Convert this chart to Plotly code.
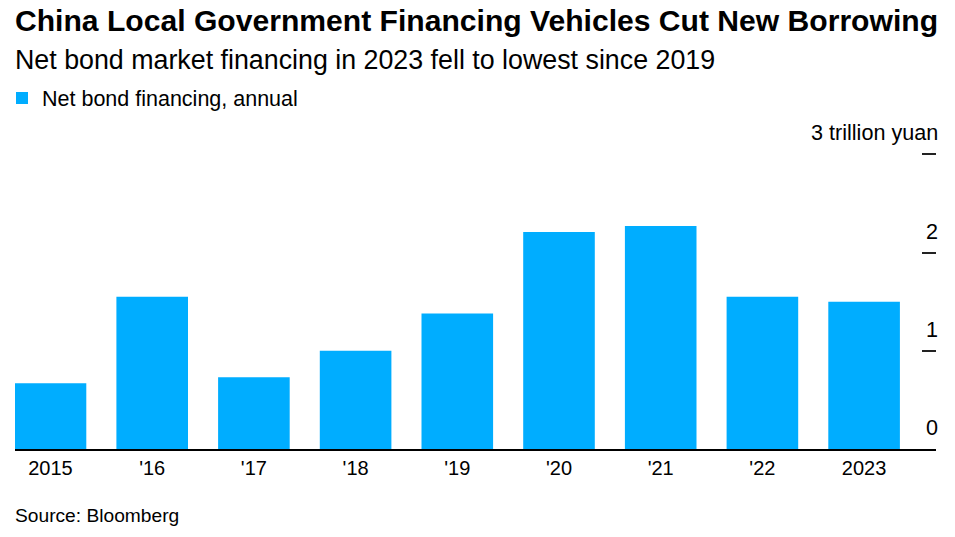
import plotly.graph_objects as go

years = ["2015", "'16", "'17", "'18", "'19", "'20", "'21", "'22", "2023"]
net_financing = [0.67, 1.55, 0.73, 1.00, 1.38, 2.21, 2.27, 1.55, 1.50]
y_tickvals = [0, 1, 2, 3]
y_ticktext = ["0", "1", "2", "3 trillion yuan"]

# the page body margin is removed by a post script, so figure px == window px
W, H = 955, 537
plot_left, plot_right, plot_top, plot_bottom = 15, 936, 110, 448.6
L, R, T, B = plot_left, W - plot_right, plot_top, H - plot_bottom
plot_w = plot_right - plot_left
plot_h = plot_bottom - plot_top
px_per_unit = 98.1
cat_px = 101.7
first_center = 50.5
x0 = (plot_left - first_center) / cat_px
x1 = x0 + plot_w / cat_px

FONT = "Liberation Sans, Arial, Helvetica, sans-serif"
BLUE = "#00ADFF"


def px_x(p):
    return (p - plot_left) / plot_w


def px_y(p):
    return (plot_bottom - p) / plot_h


fig = go.Figure()
fig.add_trace(go.Bar(
    x=years, y=net_financing, name="Net bond financing, annual",
    marker=dict(color=BLUE, line=dict(width=0)),
    hoverinfo="skip",
))

annotations = [
    dict(text="<b>China Local Government Financing Vehicles Cut New Borrowing</b>",
         xref="paper", yref="paper", x=px_x(13), y=px_y(21),
         xanchor="left", yanchor="middle", showarrow=False,
         font=dict(size=30.1, family=FONT, color="#000")),
    dict(text="Net bond market financing in 2023 fell to lowest since 2019",
         xref="paper", yref="paper", x=px_x(13), y=px_y(60),
         xanchor="left", yanchor="middle", showarrow=False,
         font=dict(size=26.8, family=FONT, color="#000")),
    dict(text="Source: Bloomberg",
         xref="paper", yref="paper", x=px_x(13), y=px_y(515),
         xanchor="left", yanchor="middle", showarrow=False,
         font=dict(size=19.2, family=FONT, color="#000")),
]
for v, t in zip(y_tickvals, y_ticktext):
    annotations.append(dict(
        text=t, xref="paper", yref="y", x=1, y=v, xshift=3.5, yshift=7,
        xanchor="right", yanchor="bottom", showarrow=False,
        font=dict(size=21.6, family=FONT, color="#000")))

fig.update_layout(
    width=W, height=H,
    margin=dict(l=L, r=R, t=T, b=B, autoexpand=False),
    plot_bgcolor="white", paper_bgcolor="white",
    font=dict(family=FONT, color="#000", size=20),
    bargap=0.296,
    showlegend=True,
    legend=dict(
        xref="paper", yref="paper",
        x=px_x(2), y=px_y(98), xanchor="left", yanchor="middle",
        font=dict(size=21.5, family=FONT, color="#000"),
        bgcolor="rgba(0,0,0,0)", itemclick=False, itemdoubleclick=False,
    ),
    xaxis=dict(
        type="category", range=[x0, x1],
        showline=True, linecolor="#000", linewidth=1.5,
        showgrid=False, zeroline=False, ticks="",
        tickfont=dict(size=20, color="#000", family=FONT),
    ),
    yaxis=dict(
        range=[0, plot_h / px_per_unit], side="right",
        tickvals=y_tickvals, showticklabels=False,
        ticks="inside", ticklen=14, tickwidth=1.5, tickcolor="#222",
        showgrid=False, zeroline=False, showline=False,
    ),
    annotations=annotations,
)

fig.write_html(
    "out.html",
    config={"displayModeBar": False},
    post_script="document.body.style.margin='0';document.body.style.overflow='hidden';",
)
